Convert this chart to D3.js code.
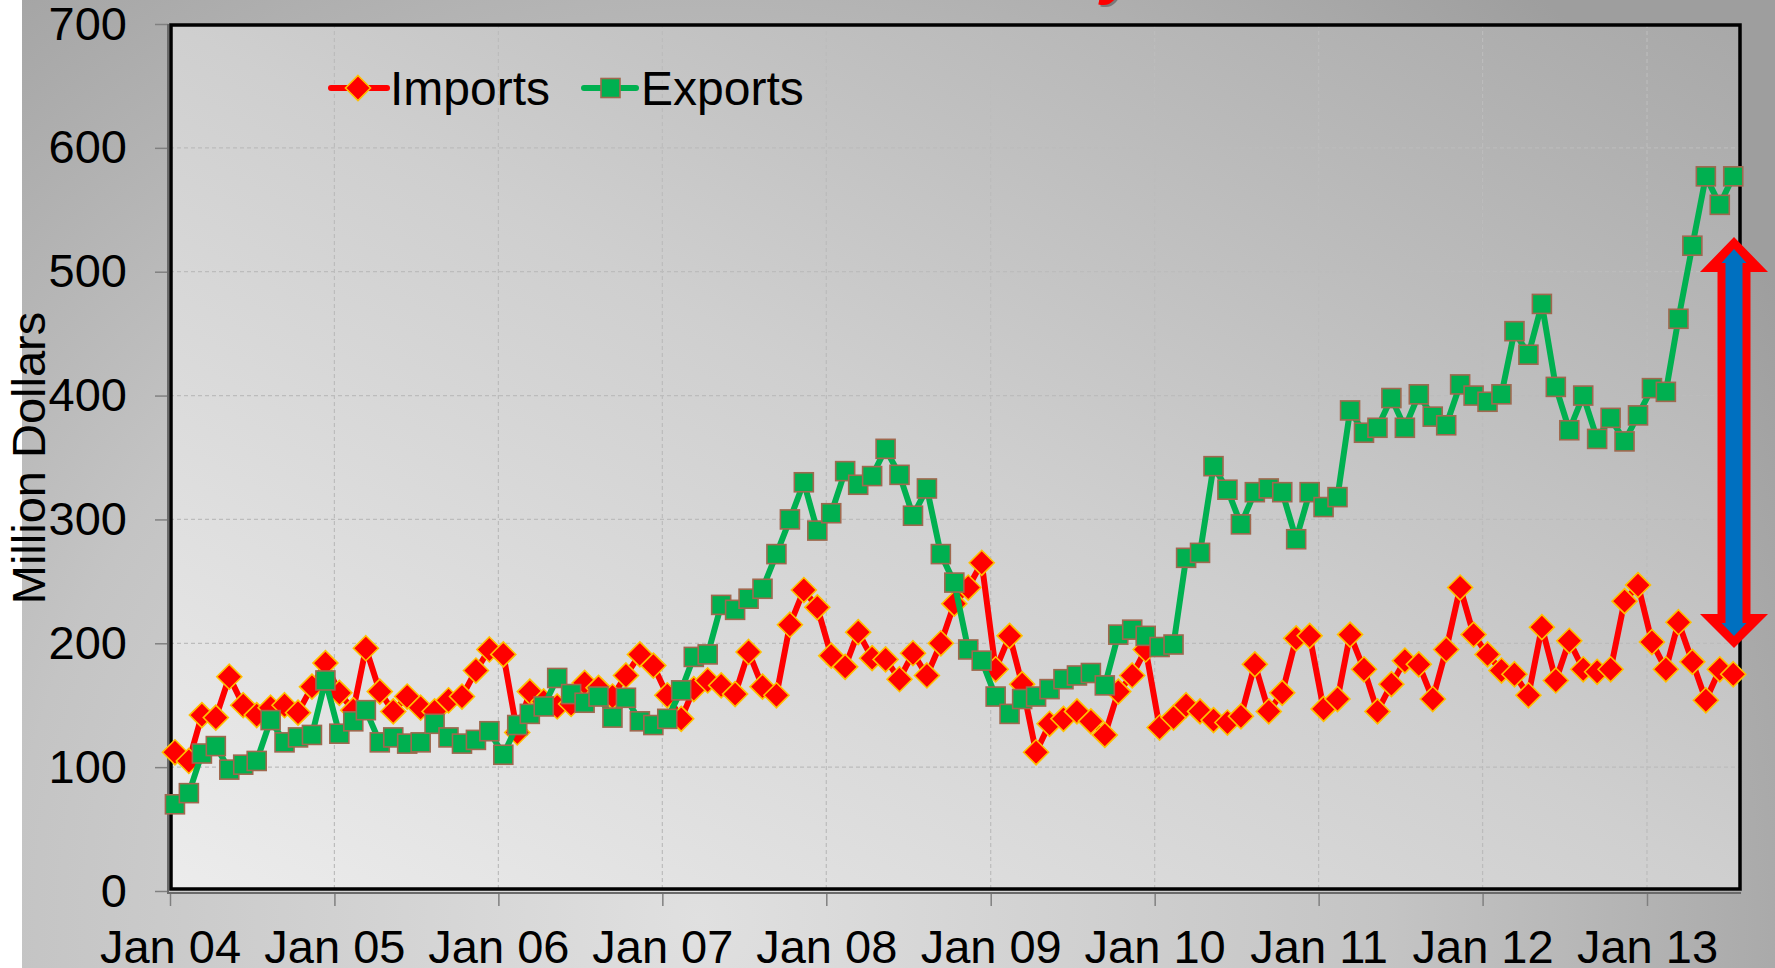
<!DOCTYPE html>
<html>
<head>
<meta charset="utf-8">
<script src="https://cdn.jsdelivr.net/npm/d3@7"></script>
<style>
  html, body { margin: 0; padding: 0; background: #fff; }
  svg { display: block; font-family: "Liberation Sans", Arial, sans-serif; }
</style>
</head>
<body>
<svg id="chart"></svg>
<script>
(function () {
  'use strict';

  // monthly values, Jan 2004 .. Jul 2013
  var startMonth = new Date(2004, 0, 1);
  var imports = [
    112, 105, 142, 140, 173, 150, 142, 148, 150, 144, 165, 184,
    160, 146, 196, 161, 145, 157, 148, 145, 154, 157, 178, 195,
    191, 128, 161, 153, 149, 151, 168, 164, 157, 174, 191, 182,
    158, 139, 163, 170, 166, 159, 193, 165, 158, 215, 243, 229,
    190, 181, 209, 188, 187, 171, 192, 174, 200, 232, 245, 265,
    179, 206, 167, 112, 135, 139, 145, 137, 126, 161, 174, 195,
    132, 140, 150, 145, 138, 136, 141, 183, 145, 160, 204, 206,
    147, 155, 207, 179, 145, 167, 186, 183, 155, 195, 245, 207,
    191, 178, 175, 158, 213, 170, 202, 179, 177, 179, 234, 247,
    201, 179, 217, 185, 154, 179, 175
  ];
  var exports = [
    70, 79, 111, 117, 98, 102, 105, 138, 120, 124, 126, 170,
    127, 137, 146, 120, 124, 119, 120, 135, 124, 119, 122, 129,
    110, 134, 143, 149, 172, 159, 152, 157, 140, 156, 137, 134,
    139, 162, 189, 191, 231, 227, 236, 244, 272, 300, 330, 291,
    305, 339, 328, 335, 357, 336, 303, 325, 272, 249, 195, 186,
    157, 143, 155, 157, 163, 171, 174, 176, 166, 207, 211, 206,
    197, 199, 269, 273, 343, 324, 296, 322, 325, 322, 284, 322,
    310, 318, 388, 370, 374, 398, 374, 401, 383, 376, 409, 400,
    395, 401, 452, 433, 474, 407, 372, 400, 365, 382, 363, 384,
    406, 403, 462, 521, 577, 554, 577
  ];
  var seriesNames = ["Imports", "Exports"];
  var yTicks = [0, 100, 200, 300, 400, 500, 600, 700];
  var xTickYears = [2004, 2005, 2006, 2007, 2008, 2009, 2010, 2011, 2012, 2013];

  var svgW = 1775, svgH = 968;
  var plotL = 170, plotR = 1741, plotT = 24, plotB = 891;

  var svg = d3.select("#chart").attr("width", svgW).attr("height", svgH);
  var defs = svg.append("defs");

  var bgGrad = defs.append("radialGradient").attr("id", "bgGrad")
    .attr("gradientUnits", "userSpaceOnUse")
    .attr("cx", 700).attr("cy", 920).attr("r", 1250);
  bgGrad.append("stop").attr("offset", "0").attr("stop-color", "#e0e0e0");
  bgGrad.append("stop").attr("offset", "0.55").attr("stop-color", "#c4c4c4");
  bgGrad.append("stop").attr("offset", "1").attr("stop-color", "#9e9e9e");

  var plotGrad = defs.append("linearGradient").attr("id", "plotGrad")
    .attr("x1", 0).attr("y1", 1).attr("x2", 1).attr("y2", 0);
  plotGrad.append("stop").attr("offset", "0").attr("stop-color", "#ececec");
  plotGrad.append("stop").attr("offset", "0.5").attr("stop-color", "#cfcfcf");
  plotGrad.append("stop").attr("offset", "1").attr("stop-color", "#a8a8a8");

  // background (white strip on the far left as in the slide)
  svg.append("rect").attr("width", svgW).attr("height", svgH).attr("fill", "#fff");
  svg.append("rect").attr("x", 22).attr("width", svgW - 22).attr("height", svgH)
    .attr("fill", "url(#bgGrad)");

  // cut-off title descender at the very top
  svg.append("text").attr("x", 1103).attr("y", -6)
    .attr("font-size", 64).attr("font-weight", "bold").attr("font-style", "italic")
    .attr("fill", "#7a7a7a").text("y");
  svg.append("text").attr("x", 1101).attr("y", -8)
    .attr("font-size", 64).attr("font-weight", "bold").attr("font-style", "italic")
    .attr("fill", "#ff0000").text("y");

  var x = d3.scaleTime()
    .domain([new Date(2004, 0, 1), new Date(2013, 0, 1)])
    .range([plotL, 1647]);
  var y = d3.scaleLinear().domain([0, 700]).range([plotB, plotT]);

  var months = imports.map(function (d, i) { return d3.timeMonth.offset(startMonth, i); });
  var px = function (d, i) { return x(d3.timeDay.offset(months[i], 11)); };

  // plot area
  svg.append("rect")
    .attr("x", plotL).attr("y", plotT)
    .attr("width", plotR - plotL).attr("height", plotB - plotT)
    .attr("fill", "url(#plotGrad)");

  var xTickDates = xTickYears.map(function (yr) { return new Date(yr, 0, 1); });

  // gridlines
  svg.append("g").selectAll("line").data(yTicks.slice(1, -1)).enter()
    .append("line")
    .attr("x1", plotL).attr("x2", plotR)
    .attr("y1", function (d) { return y(d); }).attr("y2", function (d) { return y(d); })
    .attr("stroke", "#bcbcbc").attr("stroke-width", 1.2).attr("stroke-dasharray", "4,3");
  svg.append("g").selectAll("line").data(xTickDates.slice(1)).enter()
    .append("line")
    .attr("x1", function (d) { return x(d); }).attr("x2", function (d) { return x(d); })
    .attr("y1", plotT).attr("y2", plotB)
    .attr("stroke", "#bcbcbc").attr("stroke-width", 1.2).attr("stroke-dasharray", "4,3");

  // axes
  var yAxis = svg.append("g").attr("transform", "translate(" + (plotL - 2) + ",0)")
    .call(d3.axisLeft(y).tickValues(yTicks).tickSize(13).tickPadding(28));
  var xAxis = svg.append("g").attr("transform", "translate(0," + (plotB + 2) + ")")
    .call(d3.axisBottom(x).tickValues(xTickDates).tickSize(13).tickPadding(24)
      .tickFormat(d3.timeFormat("Jan %y")));
  [yAxis, xAxis].forEach(function (ax) {
    ax.select(".domain").remove();
    ax.selectAll("line").attr("stroke", "#808080").attr("stroke-width", 1.5);
    ax.selectAll("text").attr("font-size", 47).attr("fill", "#000")
      .attr("font-family", "'Liberation Sans', Arial, sans-serif");
  });

  svg.append("text")
    .attr("transform", "translate(45," + 458 + ") rotate(-90)")
    .attr("text-anchor", "middle")
    .attr("font-size", 47).attr("fill", "#000")
    .text("Million Dollars");

  // plot border with a faint shadow on left/bottom
  svg.append("path")
    .attr("d", "M" + (plotL - 2) + "," + plotT + "V" + (plotB + 2) + "H" + plotR)
    .attr("fill", "none").attr("stroke", "#6a6a6a").attr("stroke-width", 2);
  svg.append("rect")
    .attr("x", plotL + 1).attr("y", plotT + 1)
    .attr("width", plotR - plotL - 2).attr("height", plotB - plotT - 3)
    .attr("fill", "none").attr("stroke", "#000").attr("stroke-width", 3.5);

  var line = d3.line()
    .x(px)
    .y(function (d) { return y(d); });

  var diamond = function (cx, cy, r) {
    return "M" + cx + "," + (cy - r) + "L" + (cx + r) + "," + cy +
      "L" + cx + "," + (cy + r) + "L" + (cx - r) + "," + cy + "Z";
  };

  // imports
  svg.append("path").datum(imports)
    .attr("d", line).attr("fill", "none")
    .attr("stroke", "#ff0000").attr("stroke-width", 6).attr("stroke-linejoin", "round");
  svg.append("g").selectAll("path").data(imports).enter()
    .append("path")
    .attr("d", function (d, i) { return diamond(px(d, i), y(d), 12.5); })
    .attr("fill", "#ff0000").attr("stroke", "#ffc000").attr("stroke-width", 1.6);

  // exports
  svg.append("path").datum(exports)
    .attr("d", line).attr("fill", "none")
    .attr("stroke", "#00b050").attr("stroke-width", 6).attr("stroke-linejoin", "round");
  svg.append("g").selectAll("rect").data(exports).enter()
    .append("rect")
    .attr("x", function (d, i) { return px(d, i) - 9.5; })
    .attr("y", function (d) { return y(d) - 9.5; })
    .attr("width", 19).attr("height", 19)
    .attr("fill", "#00b050").attr("stroke", "#a0684e").attr("stroke-width", 1.6);

  // legend
  var lg = svg.append("g").attr("transform", "translate(0,88)");
  lg.append("line").attr("x1", 331).attr("x2", 387).attr("stroke", "#ff0000")
    .attr("stroke-width", 6).attr("stroke-linecap", "round");
  lg.append("path").attr("d", diamond(358, 0, 12.5))
    .attr("fill", "#ff0000").attr("stroke", "#ffc000").attr("stroke-width", 1.6);
  lg.append("text").attr("x", 390).attr("y", 17).attr("font-size", 48).text(seriesNames[0]);
  lg.append("line").attr("x1", 584).attr("x2", 636).attr("stroke", "#00b050")
    .attr("stroke-width", 6).attr("stroke-linecap", "round");
  lg.append("rect").attr("x", 601).attr("y", -9.5).attr("width", 19).attr("height", 19)
    .attr("fill", "#00b050").attr("stroke", "#a0684e").attr("stroke-width", 1.6);
  lg.append("text").attr("x", 641).attr("y", 17).attr("font-size", 48).text(seriesNames[1]);

  // gap arrow between the two series
  var ax0 = 1734;
  var outer = [
    [ax0, 237], [ax0 + 34, 272], [ax0 + 16.5, 272], [ax0 + 16.5, 614], [ax0 + 34, 614],
    [ax0, 648], [ax0 - 34, 614], [ax0 - 16.5, 614], [ax0 - 16.5, 272], [ax0 - 34, 272]
  ];
  var inner = [
    [ax0, 249], [ax0 + 12.5, 263], [ax0 + 8.5, 263], [ax0 + 8.5, 623], [ax0 + 12.5, 623],
    [ax0, 636], [ax0 - 12.5, 623], [ax0 - 8.5, 623], [ax0 - 8.5, 263], [ax0 - 12.5, 263]
  ];
  svg.append("polygon").attr("points", outer.join(" ")).attr("fill", "#ff0000");
  svg.append("polygon").attr("points", inner.join(" ")).attr("fill", "#0070c0");
}());
</script>
</body>
</html>
